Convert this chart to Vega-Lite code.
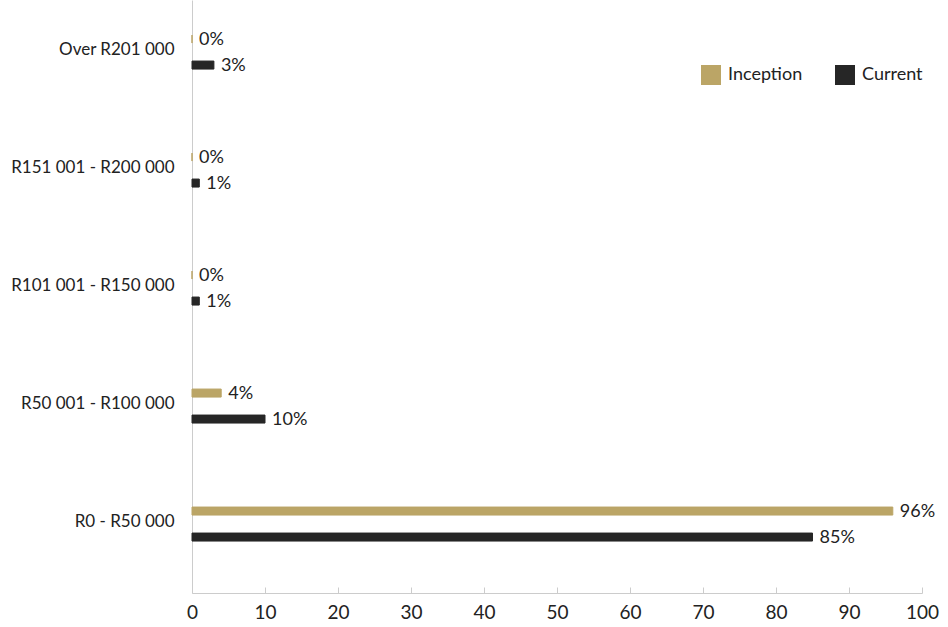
{
  "$schema": "https://vega.github.io/schema/vega-lite/v6.json",
  "width": 730,
  "height": 593,
  "autosize": {"type": "none"},
  "padding": {"left": 192, "top": 0, "right": 26, "bottom": 34},
  "config": {
    "font": "Lato",
    "view": {"stroke": null},
    "axis": {"domainColor": "#cccccc", "tickColor": "#cccccc", "labelColor": "#222222", "grid": false, "title": null}
  },
  "data": {
    "values": [
      {"band": "Over R201 000", "period": "Inception", "pct": 0, "label": "0%"},
      {"band": "Over R201 000", "period": "Current", "pct": 3, "label": "3%"},
      {"band": "R151 001 - R200 000", "period": "Inception", "pct": 0, "label": "0%"},
      {"band": "R151 001 - R200 000", "period": "Current", "pct": 1, "label": "1%"},
      {"band": "R101 001 - R150 000", "period": "Inception", "pct": 0, "label": "0%"},
      {"band": "R101 001 - R150 000", "period": "Current", "pct": 1, "label": "1%"},
      {"band": "R50 001 - R100 000", "period": "Inception", "pct": 4, "label": "4%"},
      {"band": "R50 001 - R100 000", "period": "Current", "pct": 10, "label": "10%"},
      {"band": "R0 - R50 000", "period": "Inception", "pct": 96, "label": "96%"},
      {"band": "R0 - R50 000", "period": "Current", "pct": 85, "label": "85%"}
    ]
  },
  "encoding": {
    "y": {
      "field": "band",
      "type": "nominal",
      "sort": ["Over R201 000", "R151 001 - R200 000", "R101 001 - R150 000", "R50 001 - R100 000", "R0 - R50 000"],
      "scale": {"paddingInner": 0.3, "paddingOuter": 0.1627, "align": 0.28},
      "axis": {"ticks": false, "labelFontSize": 17, "labelPadding": 18, "labelOffset": -2, "domainColor": "#cccccc"}
    },
    "yOffset": {
      "field": "period",
      "type": "nominal",
      "sort": ["Inception", "Current"],
      "scale": {"paddingInner": 0.6923, "paddingOuter": 0.935}
    },
    "x": {
      "field": "pct",
      "type": "quantitative",
      "scale": {"domain": [0, 100], "nice": false},
      "axis": {"values": [0, 10, 20, 30, 40, 50, 60, 70, 80, 90, 100], "tickSize": -6, "labelFontSize": 19, "labelPadding": 16, "labelFlush": false}
    }
  },
  "layer": [
    {
      "mark": {"type": "bar", "strokeWidth": 1},
      "encoding": {
        "color": {
          "field": "period",
          "type": "nominal",
          "sort": ["Inception", "Current"],
          "scale": {"domain": ["Inception", "Current"], "range": ["#bba566", "#262626"]},
          "legend": {
            "title": null,
            "orient": "none",
            "legendX": 509,
            "legendY": 65,
            "direction": "horizontal",
            "symbolType": "square",
            "symbolSize": 400,
            "symbolStrokeWidth": 0,
            "labelFontSize": 18,
            "labelColor": "#222222",
            "columnPadding": 32,
            "labelOffset": 7
          }
        },
        "stroke": {
          "field": "period",
          "type": "nominal",
          "scale": {"domain": ["Inception", "Current"], "range": ["#bba566", "#262626"]},
          "legend": null
        }
      }
    },
    {
      "mark": {"type": "text", "align": "left", "baseline": "middle", "dx": 7, "dy": 1, "fontSize": 18, "color": "#222222"},
      "encoding": {
        "text": {"field": "label", "type": "nominal"},
        "detail": {"field": "period"}
      }
    }
  ]
}
